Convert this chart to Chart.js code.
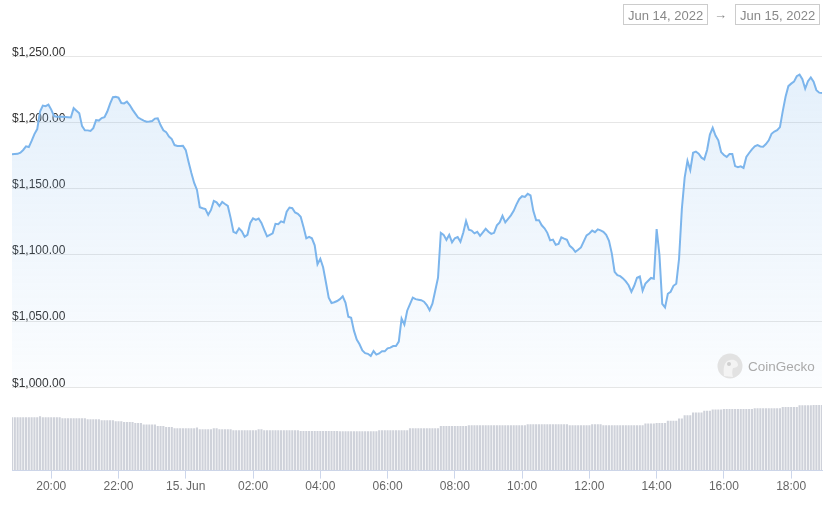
<!DOCTYPE html>
<html>
<head>
<meta charset="utf-8">
<script src="https://cdn.jsdelivr.net/npm/chart.js@4.4.1/dist/chart.umd.min.js"></script>
<style>
  body { margin: 0; background: #fff; font-family: "Liberation Sans", Arial, Helvetica, sans-serif; }
  #contenedor { position: relative; width: 830px; height: 513px; }
  .fecha { position: absolute; top: 4px; height: 21px; line-height: 21px; border: 1px solid #ccc;
           color: #888; font-size: 13px; padding: 0 4px; box-sizing: border-box; }
  #flecha { position: absolute; top: 4px; left: 714px; line-height: 21px; color: #888; font-size: 13px; }
  #marca { position: absolute; left: 717px; top: 353px; height: 26px; display: flex; align-items: center; }
  #marca span { margin-left: 5px; color: #aaa; font-size: 13.5px; }
</style>
</head>
<body>
<div id="contenedor">
  <canvas id="graficoPrecio"></canvas>
  <div class="fecha" style="left:623px;">Jun 14, 2022</div>
  <div id="flecha">&rarr;</div>
  <div class="fecha" style="left:735px;">Jun 15, 2022</div>
  <div id="marca">
    <svg width="26" height="26" viewBox="0 0 26 26">
      <circle cx="13" cy="13" r="12.5" fill="#e2e2e2"/>
      <path d="M7 23 C6 15 7 8 13 7 C18 6 21 9 21 12 C21 14 18 15 16 15 C15 18 15 21 16 24 Z" fill="#f3f3f3"/>
      <circle cx="12" cy="11" r="2" fill="#cfcfcf"/>
    </svg>
    <span>CoinGecko</span>
  </div>
</div>
<script>
// precio cada 5 minutos, desde el 14 jun 18:50
var inicioMin = 1130;
var pasoMin = 5;

var precios = [
  1175.9, 1176.1, 1176.3, 1177.2, 1179.2, 1181.9, 1181.4, 1186.0, 1191.2, 1195.0, 1208.2, 1212.7,
  1212.3, 1213.4, 1209.7, 1204.8, 1204.3, 1204.3, 1204.3, 1204.1, 1203.9, 1203.7, 1210.8, 1208.9,
  1207.0, 1197.2, 1194.1, 1194.0, 1193.6, 1195.7, 1201.8, 1201.4, 1203.3, 1204.0, 1208.2, 1214.2,
  1219.1, 1219.3, 1218.7, 1214.7, 1214.4, 1215.7, 1213.1, 1209.7, 1206.7, 1203.7, 1202.5, 1201.4,
  1200.5, 1200.7, 1201.0, 1202.9, 1203.1, 1198.0, 1194.1, 1192.7, 1189.3, 1187.4, 1182.9, 1182.2,
  1182.2, 1182.3, 1179.1, 1170.1, 1161.8, 1154.3, 1149.0, 1136.0, 1135.2, 1134.5, 1130.2, 1133.9,
  1140.7, 1139.6, 1136.9, 1140.0, 1138.4, 1136.9, 1127.9, 1117.4, 1116.4, 1120.0, 1117.7, 1113.6,
  1115.1, 1124.1, 1127.5, 1126.4, 1127.4, 1124.1, 1118.9, 1114.0, 1115.1, 1116.2, 1123.4, 1123.1,
  1125.3, 1124.5, 1132.6, 1135.7, 1135.2, 1132.0, 1130.9, 1128.8, 1121.1, 1112.5, 1113.6, 1112.5,
  1107.2, 1092.9, 1097.0, 1090.6, 1079.3, 1067.6, 1063.6, 1064.2, 1065.1, 1066.5, 1068.7, 1063.8,
  1053.3, 1052.5, 1042.7, 1036.0, 1032.4, 1027.7, 1025.7, 1025.2, 1023.5, 1027.3, 1024.6, 1025.5,
  1027.1, 1027.1, 1029.3, 1029.9, 1031.1, 1031.1, 1034.4, 1051.8, 1047.3, 1057.8, 1062.7, 1067.6,
  1066.5, 1066.1, 1065.7, 1064.6, 1062.0, 1058.2, 1063.1, 1072.9, 1082.7, 1116.6, 1115.1, 1111.3,
  1115.1, 1109.4, 1112.5, 1113.4, 1109.8, 1116.6, 1125.6, 1118.9, 1118.3, 1116.2, 1117.4, 1114.3,
  1117.0, 1119.6, 1117.4, 1115.8, 1116.6, 1122.3, 1124.4, 1129.4, 1124.5, 1127.1, 1129.8, 1133.2,
  1138.1, 1142.2, 1144.3, 1143.7, 1146.1, 1144.9, 1133.2, 1126.2, 1126.2, 1122.3, 1120.0, 1116.6,
  1110.9, 1111.5, 1107.6, 1108.3, 1113.2, 1112.2, 1111.3, 1106.8, 1105.0, 1102.3, 1103.8, 1105.6,
  1110.2, 1114.7, 1116.1, 1118.3, 1117.1, 1119.2, 1118.5, 1117.4, 1115.1, 1110.6, 1101.1, 1087.2,
  1084.6, 1083.9, 1082.2, 1079.9, 1077.0, 1072.1, 1076.6, 1082.7, 1083.6, 1072.9, 1078.2, 1080.4,
  1082.5, 1081.9, 1119.5, 1100.0, 1063.0, 1060.3, 1070.6, 1072.1, 1076.6, 1078.2, 1097.0, 1134.7,
  1158.3, 1171.0, 1164.0, 1177.1, 1178.0, 1176.4, 1173.4, 1172.1, 1179.2, 1190.8, 1195.9, 1190.1,
  1186.5, 1177.6, 1175.4, 1174.0, 1176.1, 1176.1, 1167.0, 1166.2, 1166.8, 1165.6, 1173.9, 1176.9,
  1179.7, 1181.9, 1182.8, 1181.8, 1181.7, 1183.7, 1186.5, 1191.4, 1193.1, 1194.2, 1196.5, 1208.5,
  1219.4, 1227.4, 1229.3, 1230.8, 1234.9, 1236.1, 1232.7, 1225.5, 1231.2, 1234.0, 1230.7, 1224.4,
  1222.5, 1222.3
];

// volumen 24h (miles de millones USD)
var volumenes = [
  24.5, 24.5, 24.5, 24.5, 24.5, 24.5, 24.5, 24.5, 24.5, 24.5, 24.9, 24.5,
  24.5, 24.5, 24.5, 24.5, 24.5, 24.5, 24.0, 24.0, 24.0, 24.0, 24.0, 24.0,
  24.0, 24.0, 24.0, 23.5, 23.5, 23.5, 23.5, 23.5, 23.1, 23.1, 23.1, 23.1,
  23.1, 22.6, 22.6, 22.6, 22.3, 22.3, 22.3, 22.3, 21.8, 21.8, 21.8, 21.1,
  21.1, 21.1, 21.1, 21.1, 20.4, 20.4, 20.4, 20.0, 20.0, 20.0, 19.4, 19.4,
  19.4, 19.4, 19.4, 19.4, 19.4, 19.4, 19.7, 18.9, 18.9, 18.9, 18.9, 18.9,
  19.4, 19.4, 18.9, 18.9, 18.9, 18.9, 18.9, 18.5, 18.5, 18.5, 18.5, 18.5,
  18.5, 18.5, 18.5, 18.5, 18.9, 18.9, 18.5, 18.5, 18.5, 18.5, 18.5, 18.5,
  18.5, 18.5, 18.5, 18.5, 18.5, 18.5, 18.5, 18.2, 18.2, 18.2, 18.2, 18.2,
  18.2, 18.2, 18.2, 18.2, 18.2, 18.2, 18.2, 18.2, 18.2, 18.0, 18.0, 18.0,
  18.0, 18.0, 18.0, 18.0, 18.0, 18.0, 18.0, 18.0, 18.0, 18.0, 18.0, 18.5,
  18.5, 18.5, 18.5, 18.5, 18.5, 18.5, 18.5, 18.5, 18.5, 18.5, 19.4, 19.4,
  19.4, 19.4, 19.4, 19.4, 19.4, 19.4, 19.4, 19.4, 19.4, 20.4, 20.4, 20.4,
  20.4, 20.4, 20.4, 20.4, 20.4, 20.4, 20.4, 20.8, 20.8, 20.8, 20.8, 20.8,
  20.8, 20.8, 20.8, 20.8, 20.8, 20.8, 20.8, 20.8, 20.8, 20.8, 20.8, 20.8,
  20.8, 20.8, 20.8, 20.8, 21.2, 21.2, 21.2, 21.2, 21.2, 21.2, 21.2, 21.2,
  21.2, 21.2, 21.2, 21.2, 21.2, 21.2, 21.2, 20.8, 20.8, 20.8, 20.8, 20.8,
  20.8, 20.8, 20.8, 21.2, 21.2, 21.2, 21.2, 20.8, 20.8, 20.8, 20.8, 20.8,
  20.8, 20.8, 20.8, 20.8, 20.8, 20.8, 20.8, 20.8, 20.8, 20.8, 21.6, 21.6,
  21.6, 21.6, 21.8, 21.8, 21.8, 21.8, 22.8, 22.8, 22.8, 22.8, 23.9, 23.9,
  25.4, 25.4, 25.4, 26.6, 26.6, 26.6, 26.6, 27.4, 27.4, 27.4, 28.0, 28.0,
  28.0, 28.0, 28.2, 28.2, 28.2, 28.2, 28.2, 28.2, 28.2, 28.2, 28.2, 28.2,
  28.2, 28.6, 28.6, 28.6, 28.6, 28.6, 28.6, 28.6, 28.6, 28.6, 28.6, 29.2,
  29.2, 29.2, 29.2, 29.2, 29.2, 30.0, 30.0, 30.0, 30.0, 30.0, 30.1, 30.1,
  30.1, 30.1
];

var valoresEjeY = [1000, 1050, 1100, 1150, 1200, 1250];
var minutosTicks = [1200, 1320, 1440, 1560, 1680, 1800, 1920, 2040, 2160, 2280, 2400, 2520];
var etiquetasHoras = ['20:00', '22:00', '15. Jun', '02:00', '04:00', '06:00', '08:00', '10:00', '12:00', '14:00', '16:00', '18:00'];

var graficoPrecio = null;

function crearGrafico() {
  var canvas = document.getElementById('graficoPrecio');
  var ctx = canvas.getContext('2d');

  var puntosPrecio = precios.map(function(p, i) { return { x: inicioMin + i * pasoMin, y: p }; });
  var puntosVolumen = volumenes.map(function(v, i) { return { x: inicioMin + i * pasoMin, y: v }; });
  var finMin = inicioMin + (precios.length - 1) * pasoMin;

  graficoPrecio = new Chart(ctx, {
    type: 'line',
    data: {
      datasets: [
        {
          label: 'Precio',
          data: puntosPrecio,
          yAxisID: 'y',
          borderColor: '#7cb5ec',
          borderWidth: 2,
          pointRadius: 0,
          tension: 0,
          fill: { value: 1000 },
          backgroundColor: function(context) {
            var chart = context.chart;
            var area = chart.chartArea;
            if (!area || !chart.scales.y) return 'rgba(124,181,236,0.12)';
            var base = chart.scales.y.getPixelForValue(1000);
            var g = chart.ctx.createLinearGradient(0, area.top, 0, base);
            g.addColorStop(0, 'rgba(124,181,236,0.22)');
            g.addColorStop(1, 'rgba(124,181,236,0.03)');
            return g;
          }
        },
        {
          type: 'bar',
          label: 'Volumen',
          data: puntosVolumen,
          yAxisID: 'v',
          backgroundColor: '#cfd2da',
          borderWidth: 0,
          barPercentage: 0.75,
          categoryPercentage: 1
        }
      ]
    },
    options: {
      responsive: true,
      maintainAspectRatio: false,
      animation: false,
      layout: { padding: { left: 12, right: 8, top: 43, bottom: 18 } },
      plugins: {
        legend: { display: false },
        tooltip: { enabled: false }
      },
      scales: {
        x: {
          type: 'linear',
          min: inicioMin,
          max: finMin,
          offset: false,
          afterBuildTicks: function(scale) {
            scale.ticks = minutosTicks.map(function(m) { return { value: m }; });
          },
          ticks: {
            autoSkip: false,
            maxRotation: 0,
            padding: 1,
            color: '#666',
            font: { family: '"Liberation Sans", Arial, sans-serif', size: 12 },
            callback: function(value, index) { return etiquetasHoras[index]; }
          },
          grid: { offset: false, drawOnChartArea: false, drawTicks: true, tickLength: 8, color: '#ccd6eb' },
          border: { display: true, color: '#ccd6eb', width: 1 }
        },
        y: {
          position: 'left',
          min: 937,
          max: 1260,
          afterBuildTicks: function(scale) {
            scale.ticks = valoresEjeY.map(function(v) { return { value: v }; });
          },
          ticks: {
            mirror: true,
            padding: 0,
            labelOffset: -4,
            color: '#333',
            font: { family: '"Liberation Sans", Arial, sans-serif', size: 12 },
            callback: function(value) {
              return '$' + value.toLocaleString('en-US', { minimumFractionDigits: 2, maximumFractionDigits: 2 });
            }
          },
          grid: { drawTicks: false, color: '#e6e6e6', lineWidth: 1 },
          border: { display: false }
        },
        v: {
          display: false,
          min: 0,
          max: 196
        }
      }
    }
  });
}

crearGrafico();
</script>
</body>
</html>
